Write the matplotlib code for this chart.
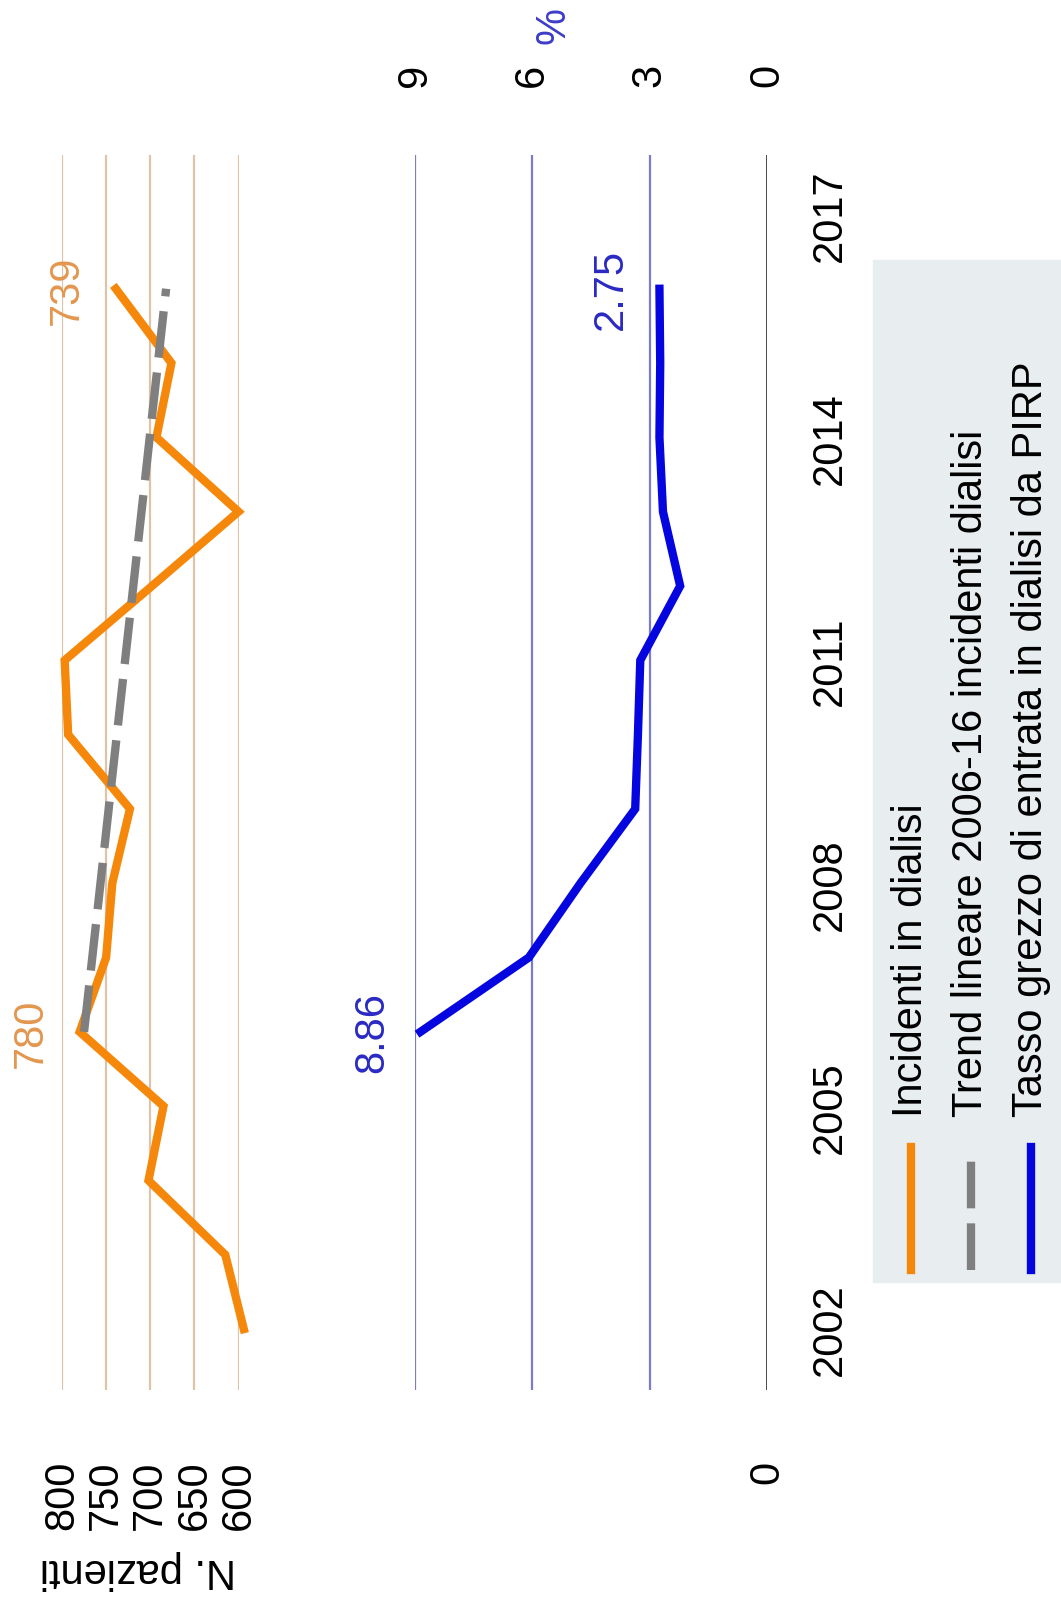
import matplotlib
matplotlib.use("Agg")
import matplotlib.pyplot as plt
from matplotlib.lines import Line2D
from matplotlib.patches import Rectangle

plt.rcParams['font.family'] = ['Liberation Sans', 'DejaVu Sans']

# dati
anni = [2002, 2003, 2004, 2005, 2006, 2007, 2008, 2009, 2010,
        2011, 2012, 2013, 2014, 2015, 2016]
incidenti = [594, 615, 702, 685, 780, 750, 743, 723, 793,
             797, 698, 600, 693, 676, 739]
anni_tasso = [2006, 2007, 2008, 2009, 2010, 2011, 2012, 2013, 2014, 2015, 2016]
tasso_pirp = [8.86, 6.09, 4.77, 3.37, 3.30, 3.24, 2.22, 2.66, 2.75, 2.73, 2.75]
anni_trend = [2006, 2016]
trend = [775, 682]

tick_anni = [2002, 2005, 2008, 2011, 2014, 2017]
tick_pazienti = [600, 650, 700, 750, 800]
tick_perc = [0, 3, 6, 9]

etichette_legenda = ["Incidenti in dialisi",
                     "Trend lineare 2006-16 incidenti dialisi",
                     "Tasso grezzo di entrata in dialisi da PIRP"]

ARANCIO = '#f5870a'
GRIGIO = '#7f7f7f'
BLU = '#0505e0'

W, H = 1061, 1608
fig = plt.figure(figsize=(W / 100, H / 100), dpi=100)

def fx(px):
    return px / W

def fy(py):
    return 1 - py / H

bottom = fy(1391)
height = (1391 - 156) / H
ylim = (2001.18, 2017.8)
fs = 30

# pannello arancione (N. pazienti), grafico ruotato di 90 gradi
ax1 = fig.add_axes([fx(62), bottom, fx(238.5 - 62), height])
ax1.plot(incidenti, anni, color=ARANCIO, lw=6, solid_joinstyle='miter',
         clip_on=False, zorder=3)
ax1.plot(trend, anni_trend, color=GRIGIO, lw=6, dashes=(5.6, 1.8),
         clip_on=False, zorder=4)
ax1.set_xlim(800, 600)
ax1.set_ylim(*ylim)
ax1.set_xticks(tick_pazienti)
ax1.set_yticks([])
ax1.grid(axis='x', color='#dfc3a6', lw=1.6)
ax1.set_axisbelow(True)
ax1.tick_params(axis='x', length=0, pad=50, labelsize=fs, labelrotation=90)
for s in ax1.spines.values():
    s.set_visible(False)
ax1.patch.set_alpha(0)

for i in [4, 14]:
    ax1.annotate(str(incidenti[i]), xy=(incidenti[i], anni[i]), xytext=(-35, 0),
                 textcoords='offset points', rotation=90, ha='center',
                 va='center', color='#e3964e', fontsize=fs)

# pannello blu (%)
ax2 = fig.add_axes([fx(415), bottom, fx(767 - 415), height])
ax2.plot(tasso_pirp, anni_tasso, color=BLU, lw=6, solid_joinstyle='miter',
         clip_on=False, zorder=3)
ax2.set_xlim(9, 0)
ax2.set_ylim(*ylim)
ax2.set_xticks(tick_perc)
for v in tick_perc:
    if v == 0:
        ax2.axvline(v, color='#3a3a3a', lw=2, zorder=1)
    else:
        ax2.axvline(v, color='#7b7bcc', lw=1.6, zorder=1)
ax2.tick_params(axis='x', length=0, pad=50, labelsize=fs, labelrotation=90,
                labeltop=True, labelbottom=True)
for t, v in zip(ax2.xaxis.get_major_ticks(), tick_perc):
    t.label1.set_visible(v == 0)
ax2.set_yticks(tick_anni)
ax2.yaxis.tick_right()
ax2.tick_params(axis='y', length=0, pad=31, labelsize=fs, labelrotation=90)
for lab in ax2.get_yticklabels():
    lab.set_va('center')
for s in ax2.spines.values():
    s.set_visible(False)
ax2.patch.set_alpha(0)

for i in [0, 10]:
    ax2.annotate(f"{tasso_pirp[i]:.2f}", xy=(tasso_pirp[i], anni_tasso[i]),
                 xytext=(-35, 0), textcoords='offset points', rotation=90,
                 ha='center', va='center', color='#2a2ac4', fontsize=fs)

fig.text(fx(553), fy(26), '%', rotation=90, ha='center', va='center',
         color='#3c3cc8', fontsize=fs)
fig.text(fx(138), fy(1570), 'N. pazienti', rotation=180, ha='center',
         va='center', fontsize=fs)

# legenda disegnata a mano (ruotata)
fig.patches.append(Rectangle((fx(873), fy(1283)), fx(W - 873), (1283 - 261) / H,
                             transform=fig.transFigure, color='#e8eef0',
                             zorder=0))
stili = [dict(color=ARANCIO), dict(color=GRIGIO, dashes=(5.6, 1.8)),
         dict(color=BLU)]
for k, (lab, st) in enumerate(zip(etichette_legenda, stili)):
    x = fx(911 + 60 * k)
    fig.lines.append(Line2D([x, x], [fy(1271), fy(1148)], lw=6,
                            transform=fig.transFigure, **st))
    fig.text(x, fy(1117), lab, rotation=90, ha='center', va='bottom',
             fontsize=fs)

fig.savefig('out.png', dpi=100)
